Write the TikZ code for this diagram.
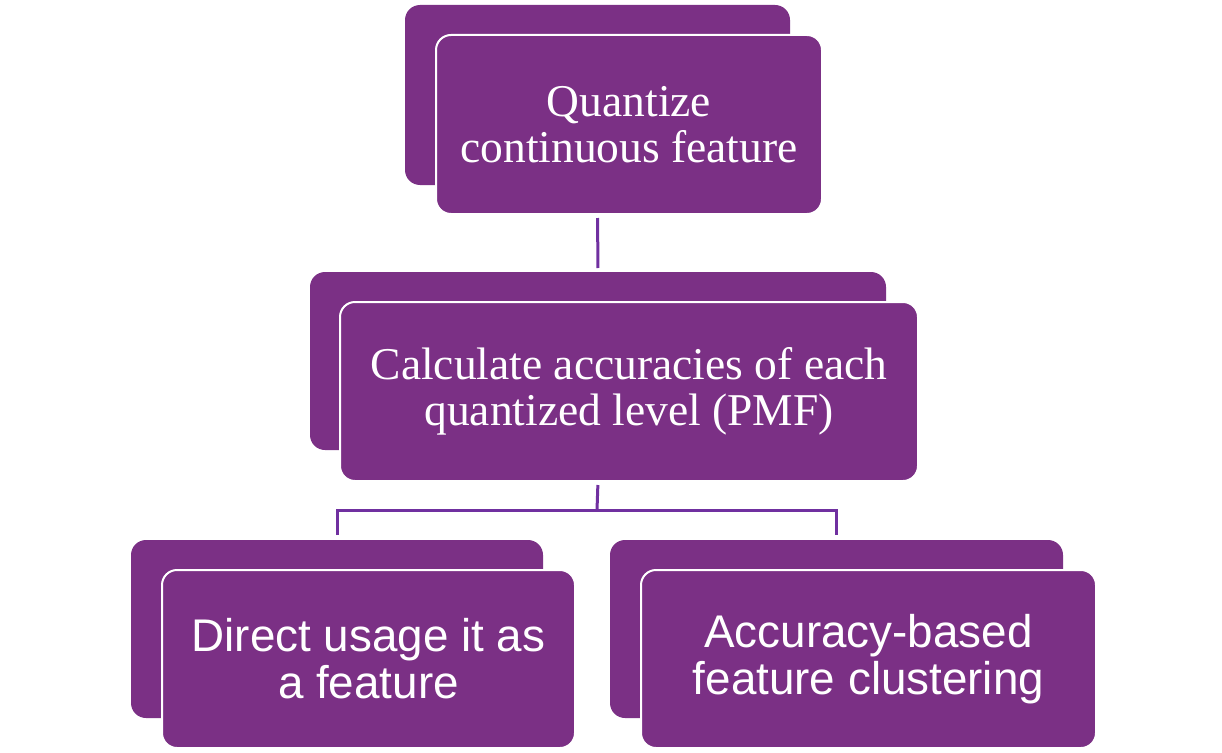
\documentclass[tikz,border=0pt]{standalone}
\usepackage{fontspec}
\setmainfont{Liberation Serif}
\newfontfamily\arialfont{Liberation Sans}
\definecolor{boxpurple}{HTML}{7B3085}
\definecolor{linepurple}{HTML}{7030A0}
\begin{document}
\begin{tikzpicture}[x=1pt,y=-1pt,
  backbox/.style={fill=boxpurple,rounded corners=15pt,inner sep=0pt,outer sep=0pt},
  frontbox/.style={fill=boxpurple,draw=white,line width=2pt,rounded corners=15pt,inner sep=0pt,outer sep=0pt,text=white,align=center},
  seriftext/.style={font=\fontsize{45.5}{46.5}\selectfont},
  sanstext/.style={font=\arialfont\fontsize{45.8}{47}\selectfont},
  conn/.style={draw=linepurple,line width=3pt}]
\useasboundingbox (0,0) rectangle (1222,752);
% top
\node[backbox,minimum width=385pt,minimum height=180pt] (qb) at (597.5,95) {};
\node[frontbox,seriftext,minimum width=386pt,minimum height=179pt] (qf) at (629,124.5) {Quantize\\continuous feature};
% middle
\node[backbox,minimum width=576pt,minimum height=178pt] (mb) at (598,361) {};
\node[frontbox,seriftext,minimum width=578pt,minimum height=179pt] (mf) at (629,391.5) {Calculate accuracies of each\\quantized level (PMF)};
% bottom left
\node[backbox,minimum width=412pt,minimum height=178pt] (lb) at (337,629) {};
\node[frontbox,sanstext,minimum width=413pt,minimum height=178pt] (lf) at (368.5,659) {Direct usage it as\\a feature};
% bottom right
\node[backbox,minimum width=453pt,minimum height=178pt] (rb) at (836.5,629) {};
\node[frontbox,sanstext,minimum width=455pt,minimum height=178pt] (rf) at (868.5,659) {Accuracy-based\\feature clustering};
% connectors
\coordinate (j) at (597,510);
\draw[conn,shorten <=4pt,shorten >=4pt] (qb.south |- qf.south) -- (mb.north);
\draw[conn,shorten <=4pt] (mb.south |- mf.south) -- (j);
\draw[conn,shorten <=5pt,shorten >=5pt] (lb.north |- j) coordinate (jl) (rb.north |- j) coordinate (jr)
  (lb.north) -- (jl) -- (jr) -- (rb.north);
\end{tikzpicture}
\end{document}
